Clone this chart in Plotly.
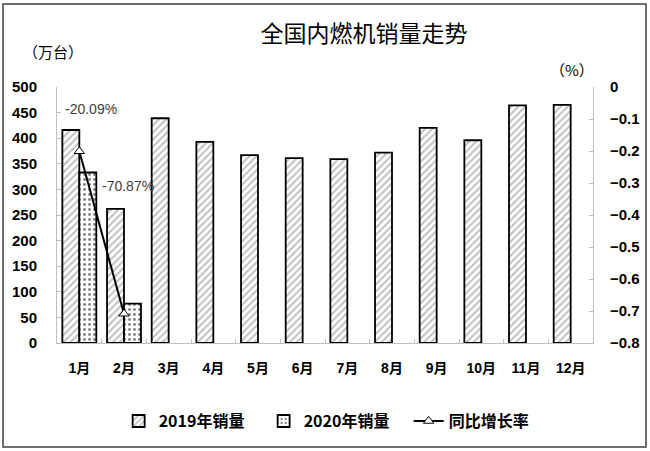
import plotly.graph_objects as go

months = ["1月", "2月", "3月", "4月", "5月", "6月", "7月", "8月", "9月", "10月", "11月", "12月"]
sales_2019 = [416, 262, 439, 393, 367, 361, 359, 372, 420, 396, 464, 465]
sales_2020 = [333, 77, None, None, None, None, None, None, None, None, None, None]
growth = [-0.2009, -0.7087, None, None, None, None, None, None, None, None, None, None]
growth_labels = ["-20.09%", "-70.87%"]
left_ticks = [0, 50, 100, 150, 200, 250, 300, 350, 400, 450, 500]
right_ticks = [0, -0.1, -0.2, -0.3, -0.4, -0.5, -0.6, -0.7, -0.8]

FONT = "Liberation Sans, Noto Sans CJK SC, sans-serif"
CJK = "Noto Sans CJK SC, sans-serif"

fig = go.Figure()
fig.add_trace(go.Bar(
    x=months, y=sales_2019, name="2019年销量",
    marker=dict(color="white", line=dict(color="black", width=1.8),
                pattern=dict(shape="/", fgcolor="#7f7f7f", bgcolor="white", size=5, solidity=0.4)),
))
fig.add_trace(go.Bar(
    x=months, y=sales_2020, name="2020年销量",
    marker=dict(color="white", line=dict(color="black", width=1.8),
                pattern=dict(shape=".", fgcolor="black", bgcolor="white", size=5, solidity=0.25)),
))
fig.add_trace(go.Scatter(
    x=months, y=growth, name="同比增长率", yaxis="y2", mode="lines+markers",
    line=dict(color="black", width=2),
    marker=dict(symbol="triangle-up", size=9, color="white", line=dict(color="black", width=1)),
))

fig.update_layout(
    width=650, height=451,
    margin=dict(l=57, r=57, t=87, b=108, autoexpand=False),
    paper_bgcolor="white", plot_bgcolor="white",
    barmode="group", bargap=0.24, bargroupgap=0,
    font=dict(family=FONT, color="black"),
    title=dict(text="全国内燃机销量走势", x=0.56, xanchor="center", y=0.925, yanchor="middle",
               font=dict(family=CJK, size=23, color="black")),
    xaxis=dict(range=[-0.5, len(months) - 0.5], showline=True, linecolor="#bfbfbf", linewidth=1,
               ticks="inside", tickson="boundaries",
               ticklen=4, tickcolor="#bfbfbf", showgrid=False, automargin=False,
               ticklabelstandoff=12,
               tickfont=dict(family=FONT, size=14, weight="bold", color="black")),
    yaxis=dict(range=[0, 500], tickvals=left_ticks, showline=True, linecolor="#bfbfbf", linewidth=1,
               ticks="inside", ticklen=4, tickcolor="#bfbfbf", showgrid=False, zeroline=False,
               ticklabelstandoff=16, automargin=False,
               tickfont=dict(family=FONT, size=15, weight="bold", color="black")),
    yaxis2=dict(range=[-0.8, 0], tickvals=right_ticks, overlaying="y", side="right", showline=True,
                linecolor="#bfbfbf", linewidth=1, ticks="inside", ticklen=4, tickcolor="#bfbfbf",
                showgrid=False, zeroline=False, ticklabelstandoff=13, automargin=False,
                tickfont=dict(family=FONT, size=15, weight="bold", color="black")),
    legend=dict(orientation="h", x=0.115, xanchor="left", y=-0.305, yanchor="middle",
                font=dict(family=CJK, size=16, weight="bold", color="black"),
                itemwidth=30, traceorder="normal", entrywidth=100),
    showlegend=True,
)

# data labels for growth line
shifts = [(12, 42), (4, 128)]
for i, lab in enumerate(growth_labels):
    fig.add_annotation(x=months[i], y=growth[i], xref="x", yref="y2", text=lab, showarrow=False,
                       xshift=shifts[i][0], yshift=shifts[i][1],
                       font=dict(family=FONT, size=14, color="#404040"))

fig.add_annotation(text="（万台）", x=-0.007, y=1.14, xref="paper", yref="paper", xanchor="center",
                   yanchor="middle", showarrow=False, font=dict(family=CJK, size=15, color="black"))
fig.add_annotation(text="（%）", x=0.96, y=1.068, xref="paper", yref="paper", xanchor="center",
                   yanchor="middle", showarrow=False, font=dict(family=CJK, size=15, color="black"))

# outer frame
fig.add_shape(type="rect", xref="paper", yref="paper", x0=-0.1007, x1=1.0989, y0=-0.406, y1=1.324,
              line=dict(color="#404040", width=1.5), fillcolor="rgba(0,0,0,0)", layer="below")

fig.write_html("out.html", config={"displayModeBar": False},
               post_script="document.body.style.margin='0';document.body.style.overflow='hidden';")
